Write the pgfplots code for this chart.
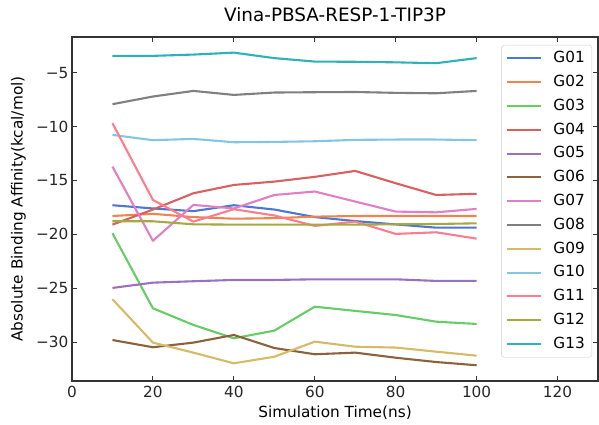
\documentclass[border=0pt]{standalone}
\usepackage{pgfplots}
\pgfplotsset{compat=1.18}
\usepackage{pgfplotstable}
\usepackage{fontspec}
\setmainfont{DejaVu Sans}

\definecolor{c01}{HTML}{4A78D4}
\definecolor{c02}{HTML}{EE8550}
\definecolor{c03}{HTML}{66CC66}
\definecolor{c04}{HTML}{D86060}
\definecolor{c05}{HTML}{9A70BF}
\definecolor{c06}{HTML}{8C613C}
\definecolor{c07}{HTML}{E07EC8}
\definecolor{c08}{HTML}{808080}
\definecolor{c09}{HTML}{D5BB67}
\definecolor{c10}{HTML}{82C6E2}
\definecolor{c11}{HTML}{FF7C8C}
\definecolor{c12}{HTML}{A8A840}
\definecolor{c13}{HTML}{30B0B8}

\pgfplotstableread{
t   G01    G02    G03    G04    G05    G06    G07    G08   G09    G10    G11    G12    G13
10  -17.30 -18.30 -19.90 -19.10 -24.97 -29.80 -13.72 -7.93 -26.02 -10.78 -9.69  -18.79 -3.45
20  -17.60 -18.10 -26.86 -17.70 -24.48 -30.47 -20.60 -7.22 -30.04 -11.27 -16.81 -18.79 -3.45
30  -17.85 -18.40 -28.40 -16.19 -24.35 -30.04 -17.27 -6.70 -30.97 -11.15 -18.82 -19.07 -3.33
40  -17.30 -18.55 -29.64 -15.42 -24.23 -29.33 -17.60 -7.07 -31.96 -11.46 -17.67 -19.10 -3.15
50  -17.70 -18.50 -28.93 -15.11 -24.23 -30.54 -16.35 -6.85 -31.35 -11.43 -18.25 -19.10 -3.66
60  -18.40 -18.36 -26.71 -14.67 -24.17 -31.12 -16.03 -6.82 -29.95 -11.37 -19.22 -19.10 -3.98
70  -18.77 -18.30 -27.10 -14.12 -24.17 -30.97 -16.96 -6.80 -30.42 -11.24 -18.82 -19.10 -4.00
80  -19.08 -18.30 -27.48 -15.26 -24.17 -31.44 -17.89 -6.88 -30.50 -11.21 -19.96 -19.07 -4.05
90  -19.38 -18.30 -28.10 -16.35 -24.32 -31.84 -17.96 -6.92 -30.88 -11.21 -19.81 -19.04 -4.13
100 -19.38 -18.30 -28.31 -16.24 -24.32 -32.14 -17.64 -6.70 -31.25 -11.27 -20.40 -18.98 -3.66
}\data

\begin{document}
\begin{tikzpicture}
\begin{axis}[
  scale only axis, width=526pt, height=344pt,
  xmin=0, xmax=130, ymin=-33.6, ymax=-1.7,
  axis line style={black!80, line width=1.1pt},
  tick align=inside, xtick pos=both, ytick pos=both,
  major tick length=5.4pt,
  tick style={black!80, line width=1.1pt},
  xtick={0,20,40,60,80,100,120},
  ytick={-30,-25,-20,-15,-10,-5},
  yticklabels={−30,−25,−20,−15,−10,−5},
  /pgf/number format/assume math mode=true,
  ticklabel style={font=\fontsize{15.3}{18}\selectfont, text=black!85},
  xticklabel style={yshift=-1.5pt},
  title={Vina-PBSA-RESP-1-TIP3P},
  title style={font=\fontsize{18.4}{22}\selectfont, at={(0.5,1)}, anchor=base, yshift=9pt},
  xlabel={Simulation Time(ns)},
  xlabel style={font=\fontsize{15.3}{18}\selectfont, at={(axis description cs:0.5,0)}, anchor=center, yshift=-32pt},
  ylabel={Absolute Binding Affinity(kcal/mol)},
  ylabel style={font=\fontsize{15.3}{18}\selectfont, at={(axis description cs:0,0.5)}, anchor=center, yshift=53.5pt},
  every axis plot/.append style={line width=2.1pt, line join=round},
  legend style={at={(1,1)}, anchor=north east, xshift=-6pt, yshift=-8pt,
    draw=black!20, rounded corners=3pt, fill=white,
    font=\fontsize{15.3}{18}\selectfont,
    inner xsep=5pt, inner ysep=4pt, row sep=5.3pt,
    /tikz/every odd column/.append style={column sep=9pt},
    nodes={inner sep=2pt, text height=11.5pt, text depth=3pt}},
  legend cell align=left,
  legend image code/.code={\draw[#1] (0pt,0pt) -- (34pt,0pt);},
]
\addplot[c01] table[x=t,y=G01]{\data}; \addlegendentry{G01}
\addplot[c02] table[x=t,y=G02]{\data}; \addlegendentry{G02}
\addplot[c03] table[x=t,y=G03]{\data}; \addlegendentry{G03}
\addplot[c04] table[x=t,y=G04]{\data}; \addlegendentry{G04}
\addplot[c05] table[x=t,y=G05]{\data}; \addlegendentry{G05}
\addplot[c06] table[x=t,y=G06]{\data}; \addlegendentry{G06}
\addplot[c07] table[x=t,y=G07]{\data}; \addlegendentry{G07}
\addplot[c08] table[x=t,y=G08]{\data}; \addlegendentry{G08}
\addplot[c09] table[x=t,y=G09]{\data}; \addlegendentry{G09}
\addplot[c10] table[x=t,y=G10]{\data}; \addlegendentry{G10}
\addplot[c11] table[x=t,y=G11]{\data}; \addlegendentry{G11}
\addplot[c12] table[x=t,y=G12]{\data}; \addlegendentry{G12}
\addplot[c13] table[x=t,y=G13]{\data}; \addlegendentry{G13}
\end{axis}
\pgfresetboundingbox
\path[use as bounding box] ([xshift=-72pt,yshift=-44pt]current axis.south west) rectangle ([xshift=1pt,yshift=37pt]current axis.north east);
\end{tikzpicture}
\end{document}
